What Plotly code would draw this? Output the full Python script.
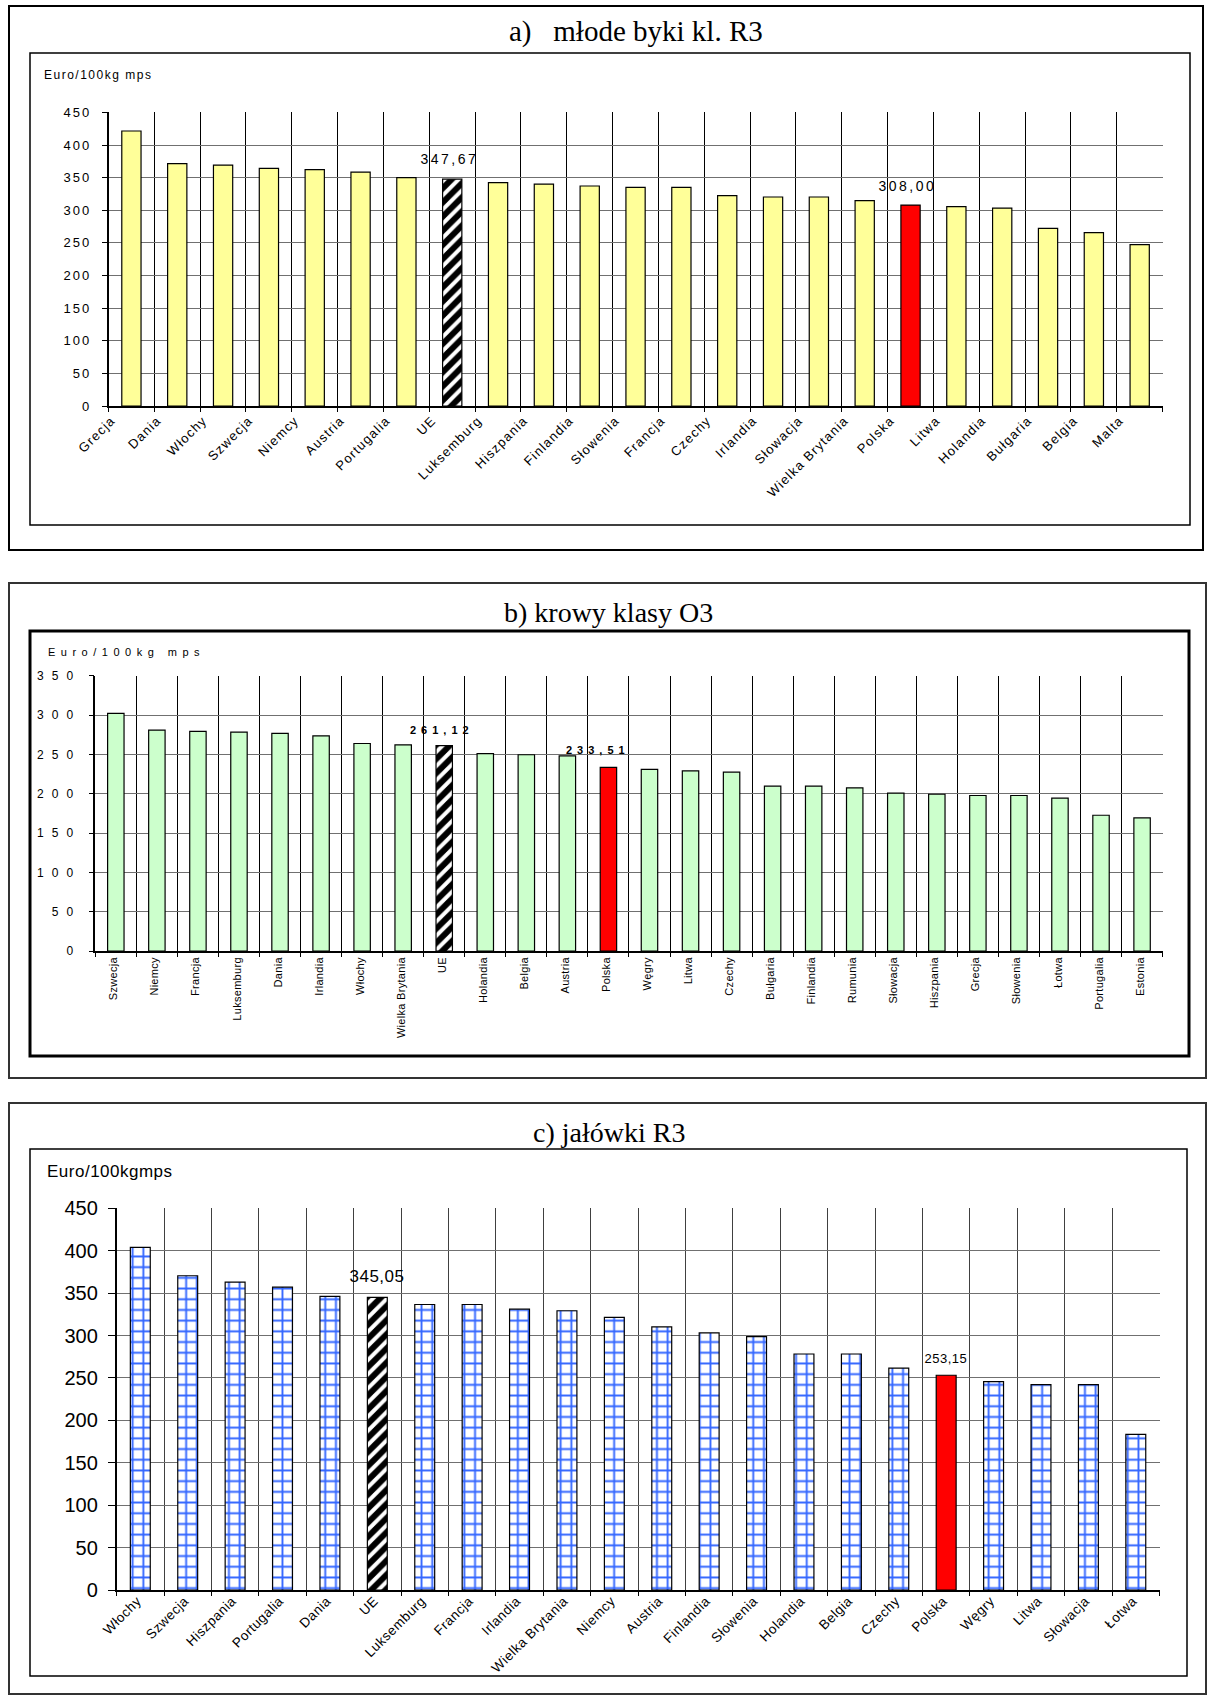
import json
import plotly.graph_objects as go

W, H = 1210, 1696

# ---------------- data ----------------
title_a = "a)   młode byki kl. R3"
ytitle_a = "Euro/100kg mps"
cat_a = ["Grecja", "Dania", "Włochy", "Szwecja", "Niemcy", "Austria", "Portugalia", "UE",
         "Luksemburg", "Hiszpania", "Finlandia", "Słowenia", "Francja", "Czechy", "Irlandia",
         "Słowacja", "Wielka Brytania", "Polska", "Litwa", "Holandia", "Bułgaria", "Belgia", "Malta"]
val_a = [421.5, 371.4, 369.3, 364.2, 362.2, 358.6, 350.0, 347.67, 342.3, 340.2, 337.2, 335.1,
         335.1, 322.3, 320.3, 320.3, 314.7, 308.00, 305.5, 303.4, 272.3, 265.6, 247.3]

title_b = "b) krowy klasy O3"
ytitle_b = "Euro/100kg mps"
cat_b = ["Szwecja", "Niemcy", "Francja", "Luksemburg", "Dania", "Irlandia", "Włochy",
         "Wielka Brytania", "UE", "Holandia", "Belgia", "Austria", "Polska", "Węgry", "Litwa",
         "Czechy", "Bułgaria", "Finlandia", "Rumunia", "Słowacja", "Hiszpania", "Grecja",
         "Słowenia", "Łotwa", "Portugalia", "Estonia"]
val_b = [302.0, 280.9, 279.1, 278.3, 276.6, 273.6, 263.8, 262.1, 261.12, 251.0, 249.5, 248.0,
         233.51, 230.9, 229.1, 227.4, 209.6, 209.6, 207.4, 200.6, 199.3, 197.7, 197.7, 194.3,
         172.6, 169.2]

title_c = "c) jałówki R3"
ytitle_c = "Euro/100kgmps"
cat_c = ["Włochy", "Szwecja", "Hiszpania", "Portugalia", "Dania", "UE", "Luksemburg", "Francja",
         "Irlandia", "Wielka Brytania", "Niemcy", "Austria", "Finlandia", "Słowenia", "Holandia",
         "Belgia", "Czechy", "Polska", "Węgry", "Litwa", "Słowacja", "Łotwa"]
val_c = [403.9, 370.5, 363.0, 357.1, 346.1, 345.05, 336.6, 336.6, 331.1, 329.2, 321.3, 310.2,
         303.1, 298.7, 278.2, 278.2, 261.6, 253.15, 245.7, 242.1, 242.1, 183.5]

labelled = ["UE", "Polska"]

SANS = "Liberation Sans, Arial, sans-serif"
SERIF = "Liberation Serif, Times New Roman, serif"


def fmt(v):
    return f"{v:.2f}".replace(".", ",")


def px_x(x):
    return x / W


def px_y(y):
    return 1 - y / H


fig = go.Figure()

# ---------------- bars (one trace per style group) ----------------
panel_defs = [
    (cat_a, val_a, "x", "y", dict(color="#FFFF99"), 0.42),
    (cat_b, val_b, "x2", "y2", dict(color="#CCFFCC"), 0.40),
    (cat_c, val_c, "x3", "y3",
     dict(color="white", pattern=dict(shape="+", fgcolor="#3366FF", bgcolor="white",
                                      size=10.7, solidity=0.32)), 0.42),
]
for cats, vals, xa, ya, normal_marker, width in panel_defs:
    groups = {
        "normal": ([c for c in cats if c not in labelled], normal_marker),
        "UE": (["UE"], dict(color="white", pattern=dict(shape="/", fgcolor="black", bgcolor="white",
                                                        size=10, solidity=0.6))),
        "Polska": (["Polska"], dict(color="#FF0000")),
    }
    for gname, (gcats, mk) in groups.items():
        gvals = [vals[cats.index(c)] for c in gcats]
        mk = dict(mk)
        mk["line"] = dict(color="black", width=1.2)
        fig.add_trace(go.Bar(
            x=gcats, y=gvals, xaxis=xa, yaxis=ya, width=width, marker=mk,
            showlegend=False, hoverinfo="skip", name=gname,
        ))

# ---------------- axes ----------------
panels = [
    dict(cats=cat_a, x=(108.5, 1162.6), y=(112.4, 406.0), ymax=450, yfs=13, xfs=13, angle=-45,
         ytl=5, shift=-20, xstand=0, ystand=8, xcol="black"),
    dict(cats=cat_b, x=(95.3, 1162.6), y=(675.7, 951.0), ymax=350, yfs=12, xfs=11, angle=-90,
         ytl=5, shift=-2, xstand=0, ystand=5, xcol="black"),
    dict(cats=cat_c, x=(116.6, 1159.5), y=(1208.3, 1590.0), ymax=450, yfs=20, xfs=13.5, angle=-45,
         ytl=7, shift=-3, xstand=-4, ystand=6, xcol="#404040"),
]
for i, p in enumerate(panels):
    sfx = "" if i == 0 else str(i + 1)
    fig.update_layout(**{
        "xaxis" + sfx: dict(
            domain=[px_x(p["x"][0]), px_x(p["x"][1])], anchor="y" + sfx, type="category",
            categoryorder="array", categoryarray=p["cats"], automargin=False,
            tickson="boundaries", ticks="outside", ticklen=4, tickcolor="black", tickwidth=1,
            showgrid=True, gridcolor=p["xcol"], gridwidth=1, zeroline=False,
            showline=True, linecolor="black", linewidth=1.5,
            tickangle=p["angle"], ticklabelshift=p["shift"], ticklabelstandoff=p["xstand"],
            tickfont=dict(family=SANS, size=p["xfs"], color="black"),
            fixedrange=True,
        ),
        "yaxis" + sfx: dict(
            domain=[px_y(p["y"][1]), px_y(p["y"][0])], anchor="x" + sfx, automargin=False,
            range=[0, p["ymax"]], dtick=50, ticks="outside", ticklen=p["ytl"], tickcolor="black",
            tickwidth=1,
            showgrid=True, gridcolor="#707070", gridwidth=1.3, zeroline=False,
            showline=True, linecolor="black", linewidth=1.5,
            ticklabelstandoff=p["ystand"],
            tickfont=dict(family=SANS, size=p["yfs"], color="black"),
            fixedrange=True,
        ),
    })

# ---------------- frames ----------------
shapes = []
frames = [
    (9, 6, 1203, 550, 2, "black"),
    (9, 583, 1206, 1078, 2, "#333333"),
    (9, 1103, 1206, 1694, 2, "#333333"),
    (30, 53, 1190, 525, 1.5, "black"),
    (30, 631, 1189, 1056, 3, "black"),
    (30, 1149, 1187, 1676, 1.5, "black"),
]
for x0, y0, x1, y1, lw, col in frames:
    shapes.append(dict(type="rect", xref="paper", yref="paper",
                       x0=px_x(x0), x1=px_x(x1), y0=px_y(y1), y1=px_y(y0),
                       line=dict(color=col, width=lw), fillcolor="rgba(0,0,0,0)", layer="below"))

# ---------------- annotations ----------------
annotations = []
spacing = {}
left_fix = []


def add_ann(spc=None, left=False, **kw):
    annotations.append(kw)
    if spc:
        spacing[len(annotations) - 1] = spc
    if left:
        left_fix.append(len(annotations) - 1)


for txt, cx, cy, fs in [(title_a, 636, 31, 29), (title_b, 608, 612, 28), (title_c, 609, 1132, 28)]:
    add_ann(text=txt, xref="paper", yref="paper", x=px_x(cx), y=px_y(cy),
            xanchor="center", yanchor="middle", showarrow=False,
            font=dict(family=SERIF, size=fs, color="black"))

for txt, lx, ly, fs, spc in [(ytitle_a, 42, 75, 12, "1.5px"), (ytitle_b, 46, 652, 11, "5.5px"),
                             (ytitle_c, 45, 1171, 17, "0.5px")]:
    add_ann(spc=spc, left=True, text=txt, xref="paper", yref="paper", x=px_x(lx), y=px_y(ly),
            xanchor="left", yanchor="middle", showarrow=False,
            font=dict(family=SANS, size=fs, color="black"))

for cats, vals, xa, ya, fsz, bold, shift, spc, xsh in [
    (cat_a, val_a, "x", "y", {"UE": 14, "Polska": 14}, False, {"UE": 20, "Polska": 19}, "2.5px",
     {"UE": -3, "Polska": -3}),
    (cat_b, val_b, "x2", "y2", {"UE": 11, "Polska": 11}, True, {"UE": 16, "Polska": 17}, "5px",
     {"UE": -2, "Polska": -10}),
    (cat_c, val_c, "x3", "y3", {"UE": 17, "Polska": 13}, False, {"UE": 21, "Polska": 17}, "0.5px",
     {"UE": 0, "Polska": 0}),
]:
    for c in labelled:
        i = cats.index(c)
        txt = fmt(vals[i])
        if bold:
            txt = "<b>" + txt + "</b>"
        add_ann(spc=spc, text=txt, xref=xa, yref=ya, x=c, y=vals[i], yshift=shift[c], xshift=xsh[c],
                xanchor="center", yanchor="middle", showarrow=False,
                font=dict(family=SANS, size=fsz[c], color="black"))

fig.update_layout(
    template="none",
    width=W, height=H, autosize=False,
    margin=dict(l=0, r=0, t=0, b=0, pad=0, autoexpand=False),
    paper_bgcolor="white", plot_bgcolor="white",
    shapes=shapes, annotations=annotations,
    barmode="overlay", hovermode=False, showlegend=False,
)

post = """
document.body.style.margin = '0';
document.body.style.padding = '0';
var gd = document.getElementById('{plot_id}');
var annSp = %s;
var leftFix = %s;
function ls(sel, v){ gd.querySelectorAll(sel).forEach(function(t){ t.style.letterSpacing = v; }); }
function fixUrls(){
  gd.querySelectorAll('path').forEach(function(p){
    var f = p.style.fill || '';
    if (f.indexOf('url(') === 0) {
      var m = f.match(/#([^"')]+)/);
      if (m) { p.style.fill = 'url(#' + m[1] + ')'; }
    }
  });
}
function applySp(){
  ls('.xtick text', '1.2px');
  ls('.ytick text', '2px');
  ls('.y2tick text', '8px');
  ls('.x2tick text', '0.3px');
  ls('.x3tick text', '0.5px');
  Object.keys(annSp).forEach(function(k){
    gd.querySelectorAll('g.annotation[data-index="' + k + '"] text').forEach(function(t){
      var bb = t.getBBox();
      t.style.letterSpacing = annSp[k];
      if (leftFix.indexOf(parseInt(k)) >= 0) {
        t.setAttribute('text-anchor', 'start');
        t.setAttribute('x', bb.x);
      }
    });
  });
  fixUrls();
}
applySp();
""" % (json.dumps(spacing), json.dumps(left_fix))

fig.write_html("out.html", post_script=post, config={"displayModeBar": False})
